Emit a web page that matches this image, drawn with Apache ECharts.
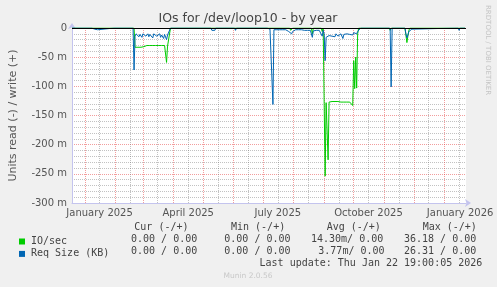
<!DOCTYPE html>
<html><head><meta charset="utf-8">
<script src="https://cdn.jsdelivr.net/npm/echarts@6/dist/echarts.min.js"></script>
<style>html,body{margin:0;padding:0;background:#f0f0f0}#c{width:497px;height:287px}</style>
</head><body><div id="c"></div>
<script>
// ---- data ----
const startDate = '2024-12-19';
const endDate = '2026-01-23';
// runs of consecutive daily values: [first day, [values...]] (read side, milli-units)
const ioSecRuns = [
  ['2024-12-19', [0]],
  ['2025-02-20', [0, -33,-32,-32,-33,-32,-32,-33,-32,-32,-32, -31,-31,-30,-31,-30,-30,-29,-30,-30,-29, -30,-30,-29,-30,-30,-29,-30,-30,-30,-29, -30,-30,-59,-31,-30,-30, 0]],
  ['2025-07-10', [0, -3, 0]],
  ['2025-07-28', [0, -4, -2, 0]],
  ['2025-08-19', [0, -10, 0]],
  ['2025-08-29', [0, -6, 0]],
  ['2025-09-01', [0, -254, -128, -128, -226, -127,
    -126,-126,-126,-126,-126,-126,-126,-127,-126,-126,-126,-127,-127,-127,-127,-128,-127,-127,-128,-128,-127,-128,-129,
    -133, -56, -104, -50, -103, -10, 0]],
  ['2025-11-06', [0, -4, 0]],
  ['2025-11-22', [0, -12, -25, -14, -4, 0]],
  ['2026-01-21', [0, 0]]
];
const reqSizeRuns = [
  ['2024-12-19', [0, 0, -3, 0]],
  ['2024-12-26', [0, -3, 0]],
  ['2025-01-08', [0, -3, 0, -2, 0, 0, -3, 0]],
  ['2025-01-31', [0, -3, 0]],
  ['2025-02-19', [0, -72,
    -14,-10,-13,-9,-15,-11,-12,-16,-10,-13, -9,-14,-12,-10,-15,-11,-9,-13,-17,-10,
    -12,-9,-14,-11,-13,-10,-16,-12,-14,-18, -11,-13,-20,-12,-15,-10, 0]],
  ['2025-04-03', [0, -3, 0]],
  ['2025-04-30', [0, -3, 0]],
  ['2025-05-09', [0, -4, -3, -2, -4, 0]],
  ['2025-05-21', [0, -3, 0]],
  ['2025-06-02', [0, -4, 0]],
  ['2025-06-23', [0, -3, 0]],
  ['2025-07-05', [0, -3, 0, -2, 0]],
  ['2025-07-10', [0, -131,
    -3,-4,-3,-3,-4,-3,-3,-3,-4,-3, -3,-4,-3,-3,-4,-6,-9,-5,-10,-6,
    -8,-4,-3,-4,-3,-3,-4,-5,-3,-6, -3,-4,-3,-3,-4,-3,-5,-4,-6,-16,
    -5,-4,-3,-4,-3,-3,-4,-5,-6,-14,-4,
    -10, -56,
    -16,-14,-17,-13,-15,-12,-14,-11,-13,-15, -10,-12,-14,-11,-13,-10,-12,-18,-11,-9,
    -12,-10,-13,-9,-11,-8,-10,-12,-8,-9, -7,-10,-6,-5,
    -4, 0]],
  ['2025-10-13', [0, -3, 0]],
  ['2025-11-07', [0, -101, 0]],
  ['2025-11-22', [0, -10, -17, -12, -6, -3, -4, -2, -3, 0]],
  ['2026-01-15', [0, -4, 0]],
  ['2026-01-21', [0, 0]]
];
const xTickDates = ['2025-01-16', '2025-04-16', '2025-07-16', '2025-10-16', '2026-01-17'];
const xTickLabels = ['January 2025', 'April 2025', 'July 2025', 'October 2025', 'January 2026'];
const seriesNames = ['IO/sec', 'Req Size (KB)'];
const statHeaders = ['Cur (-/+)', 'Min (-/+)', 'Avg (-/+)', 'Max (-/+)'];
const ioSecStats = ['0.00 / 0.00', '0.00 / 0.00', '14.30m/ 0.00', '36.18 / 0.00'];
const reqSizeStats = ['0.00 / 0.00', '0.00 / 0.00', '3.77m/ 0.00', '26.31 / 0.00'];

// ---- helpers ----
function addDays(s, k) {
  const [y, m, d] = s.split('-').map(Number);
  return new Date(Date.UTC(y, m - 1, d + k)).toISOString().slice(0, 10);
}
function expand(runs) {
  const out = [];
  runs.forEach(([s, vals]) => vals.forEach((v, k) => out.push([addDays(s, k), v])));
  return out;
}
const days = [];
for (let k = 0; ; k++) { const d = addDays(startDate, k); days.push(d); if (d === endDate) break; }

const mono = '"DejaVu Sans Mono", monospace';
const txtCol = '#444';
const colX = [[134.3, 231, 326.7, 422.7], [131, 224.3, 311, 404], [131, 224.3, 318.3, 404]];
const graphics = [];
function T(text, x, y, opts) {
  graphics.push({ type: 'text', silent: true, x: 0, y: 0,
    style: Object.assign({ text, x, y, fill: txtCol, font: '10px ' + mono,
      textAlign: 'left', align: 'left', textVerticalAlign: 'middle', verticalAlign: 'middle' }, (opts && opts.style) || {}) });
}
statHeaders.forEach((h, i) => T(h, colX[0][i], 227.3));
ioSecStats.forEach((h, i) => T(h, colX[1][i], 239.3));
reqSizeStats.forEach((h, i) => T(h, colX[2][i], 251.7));
T('Last update: Thu Jan 22 19:00:05 2026', 482.3, 263.3, { style: { textAlign: 'right', align: 'right' } });
T('Munin 2.0.56', 248, 275.7, { style: { textAlign: 'center', align: 'center', fill: '#c8c8c8', font: '7.5px "DejaVu Sans"' } });
T('IOs for /dev/loop10 - by year', 248, 19, { style: { textAlign: 'center', align: 'center', fill: '#444', font: '12.5px "DejaVu Sans"' } });
graphics.push({ type: 'text', silent: true, x: 488, y: 5, rotation: -Math.PI / 2,
  style: { text: 'RRDTOOL / TOBI OETIKER', x: 0, y: 0, fill: '#c4c4c4', font: '7px "DejaVu Sans"',
    textAlign: 'left', align: 'left', textVerticalAlign: 'middle', verticalAlign: 'middle' } });

const axisCol = '#c4c4ee';
const redGrid = 'rgba(230,60,60,0.5)';
const grayGrid = 'rgba(110,110,110,0.42)';

const chart = echarts.init(document.getElementById('c'), null, { renderer: 'canvas' });
chart.setOption({
  animation: false,
  backgroundColor: '#f0f0f0',
  grid: { left: 66, right: 31, top: 28, bottom: 84, show: true, backgroundColor: '#ffffff', borderWidth: 0 },
  legend: {
    orient: 'vertical', left: 14, top: 230.5, itemWidth: 6, itemHeight: 6, itemGap: 0.4, icon: 'rect',
    selectedMode: false, data: seriesNames,
    textStyle: { fontFamily: mono, fontSize: 10, color: txtCol, lineHeight: 12, padding: [0, 0, 0, 1] }
  },
  xAxis: [
    { type: 'time', min: startDate, max: endDate, show: false, splitLine: { show: false } },
    { type: 'category', data: days, boundaryGap: false, position: 'bottom',
      axisLine: { show: true, onZero: false, lineStyle: { color: axisCol, width: 1 }, symbol: ['none', 'arrow'], symbolSize: [6, 6], symbolOffset: [0, 5] },
      axisTick: { show: false }, axisLabel: { show: false },
      splitLine: { show: true, interval: (i, v) => v.slice(8) === '01', lineStyle: { color: redGrid, type: [1, 1] } } },
    { type: 'category', data: days, boundaryGap: false, position: 'bottom',
      axisLine: { show: false, onZero: false }, axisTick: { show: false },
      axisLabel: { show: true, interval: (i, v) => xTickDates.indexOf(v) >= 0, formatter: v => xTickLabels[xTickDates.indexOf(v)] || '',
        color: '#555', fontFamily: 'DejaVu Sans', fontSize: 10, margin: 5, hideOverlap: false },
      splitLine: { show: true, interval: (i, v) => v.slice(8) === '16', lineStyle: { color: grayGrid, type: [1, 1] } } }
  ],
  yAxis: {
    type: 'value', min: -300, max: 0, interval: 50,
    name: 'Units read (-) / write (+)', nameLocation: 'middle', nameGap: 53,
    nameTextStyle: { color: '#555', fontFamily: 'DejaVu Sans', fontSize: 11 },
    axisLine: { show: true, onZero: false, lineStyle: { color: axisCol, width: 1 }, symbol: ['none', 'arrow'], symbolSize: [6, 6], symbolOffset: [0, 5] },
    axisTick: { show: false },
    axisLabel: { color: '#555', fontFamily: 'DejaVu Sans', fontSize: 10, margin: 5, formatter: v => v === 0 ? '0' : v + ' m' },
    splitLine: { show: true, lineStyle: { color: redGrid, type: [1, 1] } },
    minorTick: { show: false, splitNumber: 5 },
    minorSplitLine: { show: true, lineStyle: { color: grayGrid, type: [1, 1] } }
  },
  series: [
    { name: seriesNames[0], type: 'line', xAxisIndex: 0, data: expand(ioSecRuns), showSymbol: false, symbol: 'none',
      color: '#00cc00', lineStyle: { color: '#00cc00', width: 1 }, z: 3 },
    { name: seriesNames[1], type: 'line', xAxisIndex: 0, data: expand(reqSizeRuns), showSymbol: false, symbol: 'none',
      color: '#0066b3', lineStyle: { color: '#0066b3', width: 1 }, z: 4,
      markLine: { silent: true, symbol: ['none', 'none'], z: 10, label: { show: false }, animation: false,
        lineStyle: { color: '#000', width: 1, type: 'solid' }, data: [{ yAxis: 0 }] } }
  ],
  graphic: graphics
});
</script></body></html>
